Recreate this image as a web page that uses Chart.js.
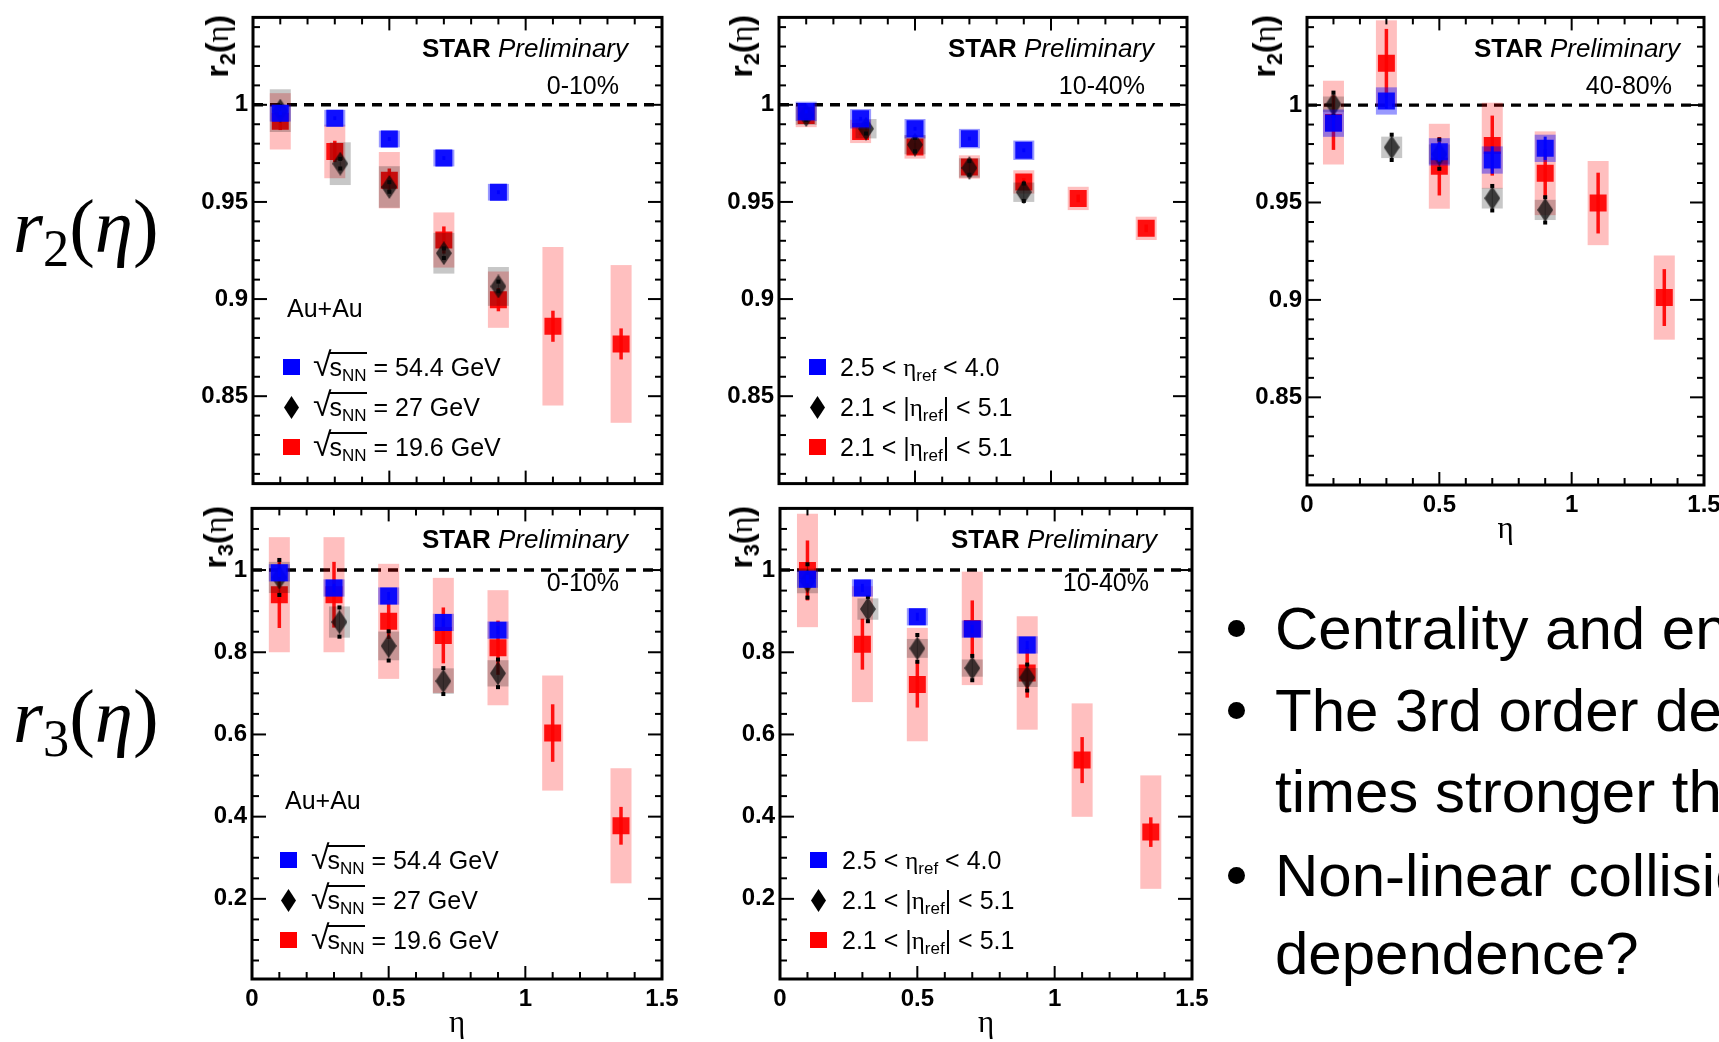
<!DOCTYPE html>
<html>
<head>
<meta charset="utf-8">
<script src="https://cdn.jsdelivr.net/npm/chart.js@4.4.1/dist/chart.umd.min.js"></script>
<style>
  html, body { margin: 0; padding: 0; background: #fff; }
  body { width: 1719px; height: 1042px; overflow: hidden; position: relative;
         font-family: 'Liberation Sans', Arial, sans-serif; color: #000; }
  canvas { position: absolute; }
  .t { position: absolute; white-space: nowrap; line-height: 1; }
  .t span, .t sub, .t i { line-height: 0; }
  .t sub { font-size: 0.68em; vertical-align: baseline; position: relative; top: 0.32em; }
  .rad { font-size: 1.35em; }
  .ov { border-top: 2px solid #000; padding-top: 1px; margin-left: -2px; line-height: 1 !important; display: inline-block; }
  .ytitle { position: absolute; white-space: nowrap; line-height: 1; font-size: 32px; font-weight: bold;
            transform-origin: 0 0; transform: rotate(-90deg) translate(-100%, -50%); }
  .ytitle sub { font-size: 0.68em; vertical-align: baseline; position: relative; top: 0.3em; }
  .eta { font-family: 'Liberation Serif', serif; font-weight: normal; }
  .mk { position: absolute; }
  .dot { position: absolute; width: 17px; height: 17px; border-radius: 50%; background: #000; }
</style>
</head>
<body>
<canvas id="p1"></canvas>
<canvas id="p2"></canvas>
<canvas id="p3"></canvas>
<canvas id="p4"></canvas>
<canvas id="p5"></canvas>
<script>
// eta bins
const etaBins = [0.1, 0.3, 0.5, 0.7, 0.9];
const etaBinsShifted = [0.1, 0.32, 0.5, 0.7, 0.9];
const etaBinsWide = [0.1, 0.3, 0.5, 0.7, 0.9, 1.1, 1.35];

// tick labels
const etaTicks = [0, 0.5, 1, 1.5];
const etaTickLabels = ['0', '0.5', '1', '1.5'];
const r2Ticks = [0.85, 0.9, 0.95, 1];
const r2TickLabels = ['0.85', '0.9', '0.95', '1'];
const r3Ticks = [0.2, 0.4, 0.6, 0.8, 1];
const r3TickLabels = ['0.2', '0.4', '0.6', '0.8', '1'];

// r2, 0-10%
const r2c010Blue = [0.9957, 0.9931, 0.9824, 0.9726, 0.9550];
const r2c010BlueStat = [0.001, 0.001, 0.001, 0.001, 0.001];
const r2c010BlueSys = [0.0043, 0.0043, 0.0043, 0.0043, 0.0043];
const r2c010Diam = [0.9970, 0.9697, 0.9577, 0.9236, 0.9065];
const r2c010DiamStat = [0.003, 0.003, 0.003, 0.003, 0.003];
const r2c010DiamSys = [0.011, 0.011, 0.0107, 0.0105, 0.010];
const r2c010Red = [0.9915, 0.9760, 0.9612, 0.9304, 0.8997, 0.8860, 0.8769];
const r2c010RedStat = [0.0045, 0.0055, 0.006, 0.007, 0.006, 0.008, 0.008];
const r2c010RedSys = [0.0145, 0.0138, 0.0145, 0.0142, 0.0145, 0.0408, 0.0406];

// r2, 10-40%
const r2c1040Blue = [0.9966, 0.9928, 0.9877, 0.9826, 0.9766];
const r2c1040BlueStat = [0.001, 0.001, 0.001, 0.001, 0.001];
const r2c1040BlueSys = [0.005, 0.005, 0.005, 0.005, 0.005];
const r2c1040Diam = [0.9947, 0.9877, 0.9795, 0.9675, 0.9550];
const r2c1040DiamStat = [0.003, 0.003, 0.004, 0.004, 0.005];
const r2c1040DiamSys = [0.005, 0.005, 0.005, 0.005, 0.005];
const r2c1040Red = [0.9945, 0.9863, 0.9783, 0.9680, 0.9603, 0.9518, 0.9364];
const r2c1040RedStat = [0.002, 0.002, 0.002, 0.002, 0.002, 0.002, 0.002];
const r2c1040RedSys = [0.006, 0.006, 0.006, 0.006, 0.006, 0.006, 0.006];

// r2, 40-80%
const r2c4080Blue = [0.9907, 1.0021, 0.9760, 0.9718, 0.9778];
const r2c4080BlueStat = [0.004, 0.004, 0.005, 0.007, 0.006];
const r2c4080BlueSys = [0.007, 0.007, 0.007, 0.007, 0.007];
const r2c4080Diam = [1.0004, 0.9783, 0.9748, 0.9522, 0.9462];
const r2c4080DiamStat = [0.0065, 0.007, 0.008, 0.0068, 0.007];
const r2c4080DiamSys = [0.004, 0.0055, 0.005, 0.0053, 0.0052];
const r2c4080Red = [0.9910, 1.0215, 0.9686, 0.9792, 0.9650, 0.9497, 0.9012];
const r2c4080RedStat = [0.014, 0.0176, 0.015, 0.0154, 0.0123, 0.0156, 0.0146];
const r2c4080RedSys = [0.0215, 0.022, 0.0218, 0.022, 0.0215, 0.0216, 0.0216];

// r3, 0-10%
const r3c010Blue = [0.9932, 0.9564, 0.9368, 0.8726, 0.8538];
const r3c010BlueStat = [0.01, 0.01, 0.01, 0.01, 0.01];
const r3c010BlueSys = [0.021, 0.021, 0.021, 0.021, 0.021];
const r3c010Diam = [0.982, 0.8735, 0.8154, 0.7299, 0.7487];
const r3c010DiamStat = [0.045, 0.038, 0.038, 0.034, 0.036];
const r3c010DiamSys = [0.038, 0.038, 0.035, 0.031, 0.032];
const r3c010Red = [0.940, 0.940, 0.8752, 0.841, 0.811, 0.6034, 0.3778];
const r3c010RedStat = [0.081, 0.08, 0.043, 0.068, 0.066, 0.070, 0.046];
const r3c010RedSys = [0.14, 0.14, 0.14, 0.14, 0.14, 0.14, 0.14];

// r3, 10-40%
const r3c1040Blue = [0.9778, 0.9564, 0.8863, 0.8564, 0.8179];
const r3c1040BlueStat = [0.01, 0.01, 0.01, 0.01, 0.01];
const r3c1040BlueSys = [0.021, 0.021, 0.021, 0.021, 0.021];
const r3c1040Diam = [0.9735, 0.9051, 0.8094, 0.7615, 0.7385];
const r3c1040DiamStat = [0.043, 0.032, 0.035, 0.032, 0.034];
const r3c1040DiamSys = [0.030, 0.026, 0.023, 0.021, 0.023];
const r3c1040Red = [0.999, 0.8197, 0.7214, 0.8581, 0.7496, 0.5376, 0.3624];
const r3c1040RedStat = [0.073, 0.062, 0.056, 0.068, 0.060, 0.056, 0.036];
const r3c1040RedSys = [0.138, 0.141, 0.138, 0.138, 0.138, 0.138, 0.138];

Chart.defaults.font.family = "'Liberation Sans', Arial, sans-serif";
Chart.defaults.font.size = 24;
Chart.defaults.font.weight = 'bold';
Chart.defaults.color = '#000';

const YW = 90, PT = 18, PR = 25;   // y axis width, top pad, right pad
const BOX_W = 21;                  // width of systematic boxes, px

function diamondImage(w, h, color) {
    const c = document.createElement('canvas');
    c.width = w; c.height = h;
    const g = c.getContext('2d');
    g.fillStyle = color;
    g.beginPath();
    g.moveTo(w / 2, 0); g.lineTo(w, h / 2); g.lineTo(w / 2, h); g.lineTo(0, h / 2);
    g.closePath();
    g.fill();
    return c;
}
const diamond = diamondImage(16, 24, 'rgba(10,10,10,0.74)');

// sys boxes + stat bars, drawn just below each dataset's markers
const errorPlugin = {
    id: 'errors',
    beforeDatasetDraw(chart, args) {
        const ds = chart.data.datasets[args.index];
        if (!ds.stat) return;
        const ctx = chart.ctx, xs = chart.scales.x, ys = chart.scales.y;
        ctx.save();
        ds.data.forEach((p, i) => {
            const px = xs.getPixelForValue(p.x);
            const y1 = ys.getPixelForValue(p.y + ds.sys[i]);
            const y2 = ys.getPixelForValue(p.y - ds.sys[i]);
            ctx.fillStyle = ds.sysColor;
            ctx.fillRect(px - BOX_W / 2, y1, BOX_W, y2 - y1);
        });
        ds.data.forEach((p, i) => {
            const px = xs.getPixelForValue(p.x);
            const y1 = ys.getPixelForValue(p.y + ds.stat[i]);
            const y2 = ys.getPixelForValue(p.y - ds.stat[i]);
            ctx.strokeStyle = ds.barColor;
            ctx.lineWidth = ds.barWidth;
            ctx.beginPath();
            ctx.moveTo(px, y1);
            ctx.lineTo(px, y2);
            ctx.stroke();
            if (ds.barCaps) {
                ctx.fillStyle = '#000';
                ctx.fillRect(px - 2, y1 - 1, 4, 4);
                ctx.fillRect(px - 2, y2 - 3, 4, 4);
            }
        });
        ctx.restore();
    }
};

// ROOT style frame with inward ticks on all four sides
const framePlugin = {
    id: 'rootFrame',
    afterDraw(chart, args, opts) {
        const {ctx, chartArea: a, scales: {x, y}} = chart;
        ctx.save();
        ctx.strokeStyle = '#000';
        ctx.lineWidth = 2;
        const seg = (x1, y1, x2, y2) => { ctx.beginPath(); ctx.moveTo(x1, y1); ctx.lineTo(x2, y2); ctx.stroke(); };
        for (let i = 0; i <= 15; i++) {
            const px = x.getPixelForValue(i / 10);
            const len = i % 5 === 0 ? 13 : 7;
            seg(px, a.bottom, px, a.bottom - len);
            seg(px, a.top, px, a.top + len);
        }
        const k0 = Math.ceil(y.min / opts.step - 1e-6);
        for (let k = k0; k * opts.step <= y.max + 1e-9; k++) {
            const py = y.getPixelForValue(k * opts.step);
            const len = k % opts.every === 0 ? 14 : 7;
            seg(a.left, py, a.left + len, py);
            seg(a.right, py, a.right - len, py);
        }
        ctx.lineWidth = 3;
        ctx.strokeRect(a.left, a.top, a.right - a.left, a.bottom - a.top);
        ctx.restore();
    }
};

function series(xs, vals, stat, sys, kind) {
    const ds = {
        data: xs.map((x, i) => ({x: x, y: vals[i]})),
        stat: stat, sys: sys,
        pointBorderWidth: 0,
        pointBorderColor: 'rgba(0,0,0,0)'
    };
    if (kind === 'blue') {
        Object.assign(ds, {pointStyle: 'rect', pointRadius: 12, pointBackgroundColor: 'rgba(0,0,255,0.9)',
            sysColor: 'rgba(0,0,255,0.4)', barColor: 'rgba(0,0,255,0.9)', barWidth: 3});
    } else if (kind === 'diam') {
        Object.assign(ds, {pointStyle: diamond, pointRadius: 10,
            sysColor: 'rgba(0,0,0,0.22)', barColor: 'rgba(0,0,0,0.35)', barWidth: 1, barCaps: true});
    } else {
        Object.assign(ds, {pointStyle: 'rect', pointRadius: 12, pointBackgroundColor: 'rgba(255,0,0,0.92)',
            sysColor: 'rgba(255,0,0,0.25)', barColor: 'rgba(255,0,0,0.92)', barWidth: 3.5});
    }
    return ds;
}

function makePanel(id, frame, yKind, showX, sets) {
    const [l, t, r, b] = frame;
    const xh = showX ? 63 : 18;
    const canvas = document.getElementById(id);
    canvas.width = r - l + YW + PR;
    canvas.height = b - t + PT + xh;
    canvas.style.left = (l - YW) + 'px';
    canvas.style.top = (t - PT) + 'px';

    const isR2 = yKind === 'r2';
    const yTicks = isR2 ? r2Ticks : r3Ticks;
    const yLabels = isR2 ? r2TickLabels : r3TickLabels;

    const unity = {type: 'line', data: [{x: 0, y: 1}, {x: 1.5, y: 1}], borderColor: '#000',
        borderWidth: 3.4, borderDash: [10, 7], pointRadius: 0, showLine: true};

    new Chart(canvas, {
        type: 'scatter',
        data: {datasets: [sets[0], sets[1], sets[2], unity]},
        options: {
            responsive: false,
            animation: false,
            events: [],
            layout: {padding: {left: 0, top: PT, right: PR, bottom: 0}},
            plugins: {
                legend: {display: false},
                tooltip: {enabled: false},
                rootFrame: isR2 ? {step: 0.01, every: 5} : {step: 0.05, every: 4}
            },
            scales: {
                x: {
                    type: 'linear', min: 0, max: 1.5,
                    grid: {display: false, drawTicks: false},
                    border: {display: false},
                    afterBuildTicks: s => { s.ticks = etaTicks.map(v => ({value: v})); },
                    ticks: {display: showX, padding: 6, maxRotation: 0, autoSkip: false,
                        callback: (v, i) => etaTickLabels[i]},
                    title: {display: showX, text: 'η', padding: 0,
                        font: {family: "'Liberation Serif', serif", size: 31, weight: 'normal'}},
                    afterFit: s => { s.height = xh; }
                },
                y: {
                    type: 'linear', min: isR2 ? 0.805 : 0.005, max: isR2 ? 1.045 : 1.15,
                    grid: {display: false, drawTicks: false},
                    border: {display: false},
                    afterBuildTicks: s => { s.ticks = yTicks.map(v => ({value: v})); },
                    ticks: {padding: 5, autoSkip: false, callback: (v, i) => yLabels[i]},
                    afterFit: s => { s.width = YW; }
                }
            }
        },
        plugins: [errorPlugin, framePlugin]
    });
}

makePanel('p1', [253, 16, 662, 485], 'r2', false, [
    series(etaBins, r2c010Blue, r2c010BlueStat, r2c010BlueSys, 'blue'),
    series(etaBinsShifted, r2c010Diam, r2c010DiamStat, r2c010DiamSys, 'diam'),
    series(etaBinsWide, r2c010Red, r2c010RedStat, r2c010RedSys, 'red')]);
makePanel('p2', [779, 16, 1187, 485], 'r2', false, [
    series(etaBins, r2c1040Blue, r2c1040BlueStat, r2c1040BlueSys, 'blue'),
    series(etaBinsShifted, r2c1040Diam, r2c1040DiamStat, r2c1040DiamSys, 'diam'),
    series(etaBinsWide, r2c1040Red, r2c1040RedStat, r2c1040RedSys, 'red')]);
makePanel('p3', [1307, 16, 1704, 485], 'r2', true, [
    series(etaBins, r2c4080Blue, r2c4080BlueStat, r2c4080BlueSys, 'blue'),
    series(etaBinsShifted, r2c4080Diam, r2c4080DiamStat, r2c4080DiamSys, 'diam'),
    series(etaBinsWide, r2c4080Red, r2c4080RedStat, r2c4080RedSys, 'red')]);
makePanel('p4', [252, 507, 662, 979], 'r3', true, [
    series(etaBins, r3c010Blue, r3c010BlueStat, r3c010BlueSys, 'blue'),
    series(etaBinsShifted, r3c010Diam, r3c010DiamStat, r3c010DiamSys, 'diam'),
    series(etaBinsWide, r3c010Red, r3c010RedStat, r3c010RedSys, 'red')]);
makePanel('p5', [780, 507, 1192, 979], 'r3', true, [
    series(etaBins, r3c1040Blue, r3c1040BlueStat, r3c1040BlueSys, 'blue'),
    series(etaBinsShifted, r3c1040Diam, r3c1040DiamStat, r3c1040DiamSys, 'diam'),
    series(etaBinsWide, r3c1040Red, r3c1040RedStat, r3c1040RedSys, 'red')]);

// ---- text overlays ----
function place(html, o) {
    const d = document.createElement('div');
    d.className = 't';
    d.innerHTML = html;
    d.style.fontSize = o.size + 'px';
    if (o.family) d.style.fontFamily = o.family;
    d.style.top = (o.base - o.size * (o.asc || 0.8465)) + 'px';
    if (o.right != null) d.style.right = (1719 - o.right) + 'px';
    else d.style.left = o.left + 'px';
    document.body.appendChild(d);
    return d;
}
function yTitle(html, cx, top) {
    const d = document.createElement('div');
    d.className = 'ytitle';
    d.innerHTML = html;
    d.style.left = cx + 'px';
    d.style.top = top + 'px';
    document.body.appendChild(d);
}
function marker(kind, left, cy) {
    const d = document.createElement('div');
    d.className = 'mk';
    if (kind === 'diam') {
        Object.assign(d.style, {left: (left + 1) + 'px', top: (cy - 11) + 'px', width: '15px', height: '23px',
            background: '#000', clipPath: 'polygon(50% 0, 100% 50%, 50% 100%, 0 50%)'});
    } else {
        Object.assign(d.style, {left: left + 'px', top: (cy - 8) + 'px', width: '17px', height: '16px',
            background: kind === 'blue' ? '#0000ff' : '#ff0000'});
    }
    document.body.appendChild(d);
}

const starLabel = '<b>STAR</b> <i>Preliminary</i>';
[[628, 57], [1154, 57], [1680, 57], [628, 548], [1157, 548]].forEach(([r, b]) =>
    place(starLabel, {right: r, base: b, size: 26}));
place('0-10%', {right: 619, base: 94, size: 25});
place('10-40%', {right: 1145, base: 94, size: 25});
place('40-80%', {right: 1672, base: 94, size: 25});
place('0-10%', {right: 619, base: 591, size: 25});
place('10-40%', {right: 1149, base: 591, size: 25});

place('Au+Au', {left: 287, base: 317, size: 25});
place('Au+Au', {left: 285, base: 809, size: 25});

const rootS = '<span class="rad">√</span><span class="ov">s<sub>NN</sub></span>';
const energyLegend = [rootS + ' = 54.4 GeV', rootS + ' = 27 GeV', rootS + ' = 19.6 GeV'];
const etaRefLegend = ['2.5 &lt; <span class="eta">η</span><sub>ref</sub> &lt; 4.0',
    '2.1 &lt; |<span class="eta">η</span><sub>ref</sub>| &lt; 5.1',
    '2.1 &lt; |<span class="eta">η</span><sub>ref</sub>| &lt; 5.1'];
const kinds = ['blue', 'diam', 'red'];

function legend(texts, mLeft, tLeft, rows, lift) {
    rows.forEach((cy, i) => {
        marker(kinds[i], mLeft, cy);
        place(texts[i], {left: tLeft, base: cy + 9 - lift, size: 25});
    });
}
legend(energyLegend, 283, 313, [367, 407, 447], 3);
legend(energyLegend, 280, 311, [860, 900, 940], 3);
legend(etaRefLegend, 809, 840, [367, 407, 447], 0);
legend(etaRefLegend, 810, 842, [860, 900, 940], 0);

// rotated y titles
const r2Title = 'r<sub>2</sub>(<span class="eta">η</span>)';
const r3Title = 'r<sub>3</sub>(<span class="eta">η</span>)';
yTitle(r2Title, 217, 15);
yTitle(r2Title, 741, 15);
yTitle(r2Title, 1264, 15);
yTitle(r3Title, 215, 506);
yTitle(r3Title, 741, 506);

// big row labels on the left
const serifIt = "'Liberation Serif', 'Times New Roman', serif";
place('<i>r</i><sub style="top:0.28em">2</sub>(<i>η</i>)', {left: 13, base: 252, size: 77, family: serifIt, asc: 0.8375});
place('<i>r</i><sub style="top:0.28em">3</sub>(<i>η</i>)', {left: 13, base: 742, size: 77, family: serifIt, asc: 0.8375});

// slide bullets on the right
const bulletLines = [
    ['Centrality and energy', 650, true],
    ['The 3rd order de-correlation', 732, true],
    ['times stronger than', 813, false],
    ['Non-linear collision energy', 897, true],
    ['dependence?', 975, false]
];
bulletLines.forEach(([txt, base, dot]) => {
    place(txt, {left: 1275, base: base, size: 60});
    if (dot) {
        const d = document.createElement('div');
        d.className = 'dot';
        d.style.left = (1236 - 8.5) + 'px';
        d.style.top = (base - 22 - 8.5) + 'px';
        document.body.appendChild(d);
    }
});
</script>
</body>
</html>
